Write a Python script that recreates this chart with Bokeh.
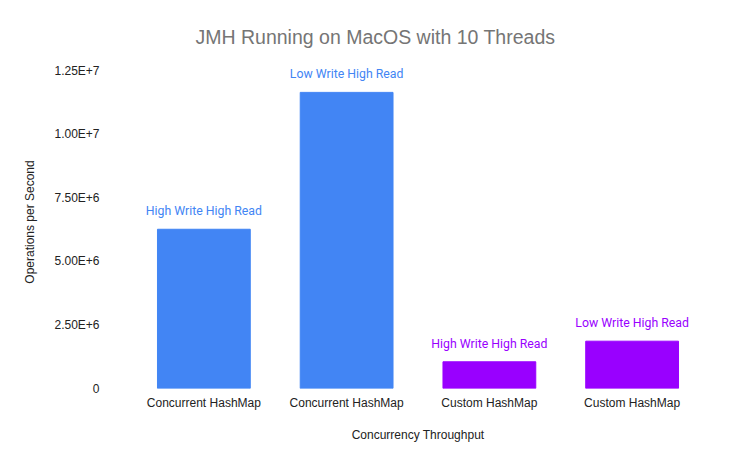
from bokeh.plotting import figure
from bokeh.models import ColumnDataSource, FixedTicker, Range1d
from bokeh.core.properties import value
from bokeh.embed import file_html
from bokeh.resources import INLINE

categories = ["Concurrent HashMap", "Concurrent HashMap", "Custom HashMap", "Custom HashMap"]
scenarios = ["High Write High Read", "Low Write High Read", "High Write High Read", "Low Write High Read"]
ops_per_second = [6.26e6, 11.64e6, 1.05e6, 1.86e6]
bar_colors = ["#4285F4", "#4285F4", "#9900FF", "#9900FF"]
y_ticks = [0, 2.5e6, 5.0e6, 7.5e6, 1.0e7, 1.25e7]
y_tick_labels = ["0", "2.50E+6", "5.00E+6", "7.50E+6", "1.00E+7", "1.25E+7"]

positions = list(range(1, len(categories) + 1))
src = ColumnDataSource(dict(x=positions, top=ops_per_second, color=bar_colors,
                            label=scenarios, cat=categories))

p = figure(width=750, height=464, output_backend="svg", toolbar_location=None,
           x_range=Range1d(0.5, 4.5), y_range=Range1d(0, 1.309e7),
           min_border_left=132, min_border_right=47, min_border_top=55,
           min_border_bottom=76, title="JMH Running on MacOS with 10 Threads")
p.outline_line_color = None
p.grid.grid_line_color = None

p.title.align = "left"
p.title.offset = 63
p.title.text_font = "Liberation Sans"
p.title.text_font_size = "19.5px"
p.title.text_font_style = "normal"
p.title.text_color = "#757575"
p.title.standoff = 15

p.vbar(x="x", top="top", width=0.65, bottom=0, color="color", source=src)
p.text(x="x", y="top", text="label", source=src, text_color="color",
       text_font=value("Roboto"), text_font_size="12.3px", text_align="center",
       text_baseline="bottom", y_offset=-11)

p.xaxis.ticker = FixedTicker(ticks=positions)
p.xaxis.major_label_overrides = {pos: c for pos, c in zip(positions, categories)}
p.yaxis.ticker = FixedTicker(ticks=y_ticks)
p.yaxis.major_label_overrides = {t: l for t, l in zip(y_ticks, y_tick_labels)}

for ax in (p.xaxis, p.yaxis):
    ax.axis_line_color = None
    ax.major_tick_line_color = None
    ax.minor_tick_line_color = None
    ax.major_label_text_font = "Liberation Sans"
    ax.major_label_text_font_size = "12px"
    ax.major_label_text_color = "#222222"
    ax.axis_label_text_font = "Liberation Sans"
    ax.axis_label_text_font_size = "12px"
    ax.axis_label_text_font_style = "normal"
    ax.axis_label_text_color = "#222222"

p.xaxis.axis_label = "Concurrency Throughput"
p.yaxis.axis_label = "Operations per Second"
p.yaxis.major_label_standoff = 27
p.xaxis.major_label_standoff = 1
p.xaxis.axis_label_standoff = 15
p.yaxis.axis_label_standoff = 14

open("out.html", "w").write(file_html(p, INLINE))
